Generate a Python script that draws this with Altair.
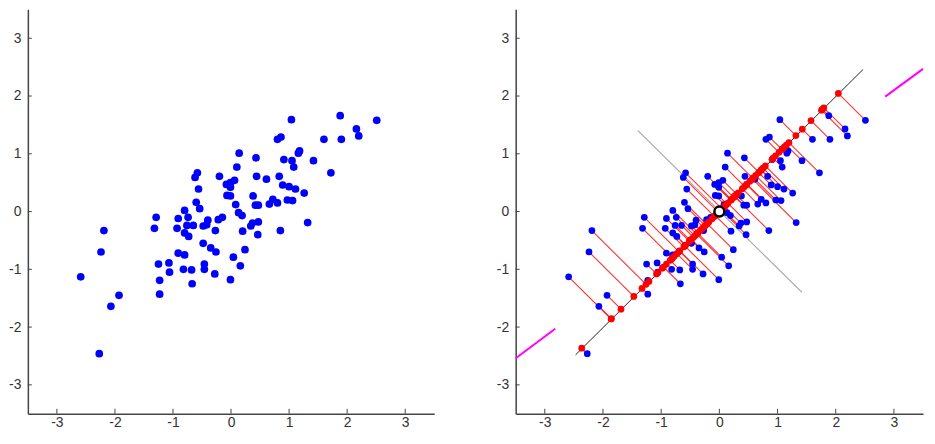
import altair as alt
import pandas as pd

# ---- data ----
xs = [-2.59, -2.27, -2.19, -2.24, -2.07, -1.93, -1.29, -1.32, -1.25, -1.23,
      -1.23, -1.07, -1.06, -0.91, -0.93, -0.80, -0.74, -0.80, -0.73, -0.76,
      -0.65, -0.91, -0.80, -0.82, -0.68, -0.67, -0.62, -0.58, -0.56, -0.60,
      -0.54, -0.48, -0.40, -0.42, -0.48, -0.46, -0.46, -0.35, -0.26, -0.28,
      -0.27, -0.22, -0.15, -0.20, -0.08, -0.01, 0.06, -0.01, -0.07, -0.01,
      0.08, 0.13, 0.19, 0.14, 0.10, 0.04, 0.16, -0.01, 0.20, 0.24,
      0.34, 0.37, 0.47, 0.46, 0.43, 0.44, 0.38, 0.42, 0.47, 0.61,
      0.66, 0.72, 0.80, 0.80, 0.86, 1.04, 0.83, 0.91, 1.05, 1.08,
      0.89, 1.00, 1.11, 1.26, 0.97, 1.06, 0.85, 1.18, 1.16, 1.42,
      1.32, 1.60, 1.72, 1.88, 1.90, 2.16, 2.20, 2.51]
ys = [-1.13, -2.46, -0.33, -0.70, -1.64, -1.45, -0.10, -0.29, -0.91, -1.19,
      -1.43, -0.89, -1.05, -0.12, -0.29, 0.02, -0.10, -0.37, -0.43, -0.24,
      -0.24, -0.72, -0.75, -1.00, -1.01, -1.25, 0.59, 0.67, 0.39, 0.16,
      0.05, -0.25, -0.15, -0.23, -0.55, -0.91, -1.00, -0.63, -0.70, -1.08,
      -0.33, -0.14, -0.10, 0.61, 0.47, 0.50, 0.54, 0.42, 0.28, 0.27,
      0.12, -0.02, -0.07, 1.01, 0.77, -0.79, -0.94, -1.18, -0.34, -0.66,
      -0.25, -0.20, -0.18, -0.40, 0.93, 0.61, 0.27, 0.11, 0.11, 0.56,
      0.13, 0.21, 0.15, 1.25, 1.29, 1.59, 0.61, 0.90, 0.88, 0.77,
      0.46, 0.43, 0.39, 0.32, 0.20, 0.19, -0.33, 1.05, 1.01, 0.88,
      -0.19, 1.25, 0.67, 1.66, 1.25, 1.43, 1.31, 1.58]

tick_vals = [-3, -2, -1, 0, 1, 2, 3]
axis_lo, axis_hi = -3.5, 3.5

# principal axis (black), perpendicular axis (gray), magenta segments, origin
pc1_x = [-2.47, 2.47]
pc1_y = [-2.48, 2.46]
pc2_x = [-1.40, 1.42]
pc2_y = [1.40, -1.40]
mag_x = [-3.5, -2.82, 2.85, 3.5]
mag_y = [-2.54, -2.03, 1.99, 2.47]
mag_seg = ["a", "a", "b", "b"]
origin_x = [0.0]
origin_y = [0.0]

df = pd.DataFrame({"x": xs, "y": ys})
ticks_df = pd.DataFrame({"v": tick_vals})
pc1_df = pd.DataFrame({"x": pc1_x, "y": pc1_y})
pc2_df = pd.DataFrame({"x": pc2_x, "y": pc2_y})
mag_df = pd.DataFrame({"x": mag_x, "y": mag_y, "seg": mag_seg})
origin_df = pd.DataFrame({"x": origin_x, "y": origin_y})

FONT = "Liberation Sans"
AX_COLOR = "#444444"
TICK_LEN = 0.085

xscale = alt.Scale(domain=[axis_lo, axis_hi], nice=False, zero=False)
yscale = alt.Scale(domain=[axis_lo, axis_hi], nice=False, zero=False)

xaxis = alt.Axis(values=tick_vals, grid=False, ticks=False, tickSize=0,
                 labelPadding=2, domainColor=AX_COLOR, domainWidth=1.5,
                 labelFont=FONT, labelFontSize=14, labelColor="#333333",
                 labelExpr="datum.value + ''", title=None, labelFlush=False)
yaxis = alt.Axis(values=tick_vals, grid=False, ticks=False, tickSize=0,
                 labelPadding=7, domainColor=AX_COLOR, domainWidth=1.5,
                 labelFont=FONT, labelFontSize=14, labelColor="#333333",
                 labelExpr="datum.value + ''", title=None, labelFlush=False,
                 minExtent=19, maxExtent=19)


def X(field="x"):
    return alt.X(f"{field}:Q", scale=xscale, axis=xaxis)


def Y(field="y"):
    return alt.Y(f"{field}:Q", scale=yscale, axis=yaxis)


def inward_ticks():
    xt = alt.Chart(ticks_df).transform_calculate(
        y0=f"{axis_lo}", y1=f"{axis_lo + TICK_LEN}"
    ).mark_rule(color=AX_COLOR, strokeWidth=1).encode(
        x=X("v"), y=Y("y0"), y2="y1:Q")
    yt = alt.Chart(ticks_df).transform_calculate(
        x0=f"{axis_lo}", x1=f"{axis_lo + TICK_LEN * 0.8}"
    ).mark_rule(color=AX_COLOR, strokeWidth=1).encode(
        y=Y("v"), x=X("x0"), x2="x1:Q")
    return xt + yt


PW_L, PW_R, PH = 409, 410, 407

# ---- left panel ----
left_pts = alt.Chart(df).mark_circle(color="#0000ff", size=60, opacity=1).encode(
    x=X(), y=Y())
left = alt.layer(inward_ticks(), left_pts).properties(width=PW_L, height=PH)

# ---- right panel ----
gray_line = alt.Chart(pc2_df).mark_line(color="#a8a8a8", strokeWidth=1.2).encode(
    x=X(), y=Y(), order="x:Q")
black_line = alt.Chart(pc1_df).mark_line(color="#222222", strokeWidth=1).encode(
    x=X(), y=Y(), order="x:Q")
proj = alt.Chart(df).transform_calculate(p="(datum.x + datum.y) / 2")
red_segs = proj.mark_rule(color="#ff1a1a", strokeWidth=1.1, opacity=0.9).encode(
    x=X(), y=Y(), x2="p:Q", y2="p:Q")
blue_pts = alt.Chart(df).mark_circle(color="#0000ff", size=46, opacity=1).encode(
    x=X(), y=Y())
red_pts = proj.mark_circle(color="#ff0000", size=46, opacity=1).encode(
    x=X("p"), y=Y("p"))
magenta = alt.Chart(mag_df).mark_line(color="#ff00ff", strokeWidth=2).encode(
    x=X(), y=Y(), detail="seg:N", order="x:Q")
origin = alt.Chart(origin_df).mark_point(
    shape="circle", filled=False, fill="white", fillOpacity=1,
    stroke="black", strokeWidth=2.5, size=100, opacity=1).encode(x=X(), y=Y())

right = alt.layer(inward_ticks(), gray_line, black_line, red_segs,
                  blue_pts, red_pts, magenta, origin).properties(
    width=PW_R, height=PH)

chart = alt.hconcat(left, right, spacing=62).properties(
    padding={"left": 0, "top": 0, "right": 0, "bottom": 0},
    background="white"
).configure_view(stroke=None)

chart.save("out.html", embed_options={"renderer": "svg", "actions": False})
